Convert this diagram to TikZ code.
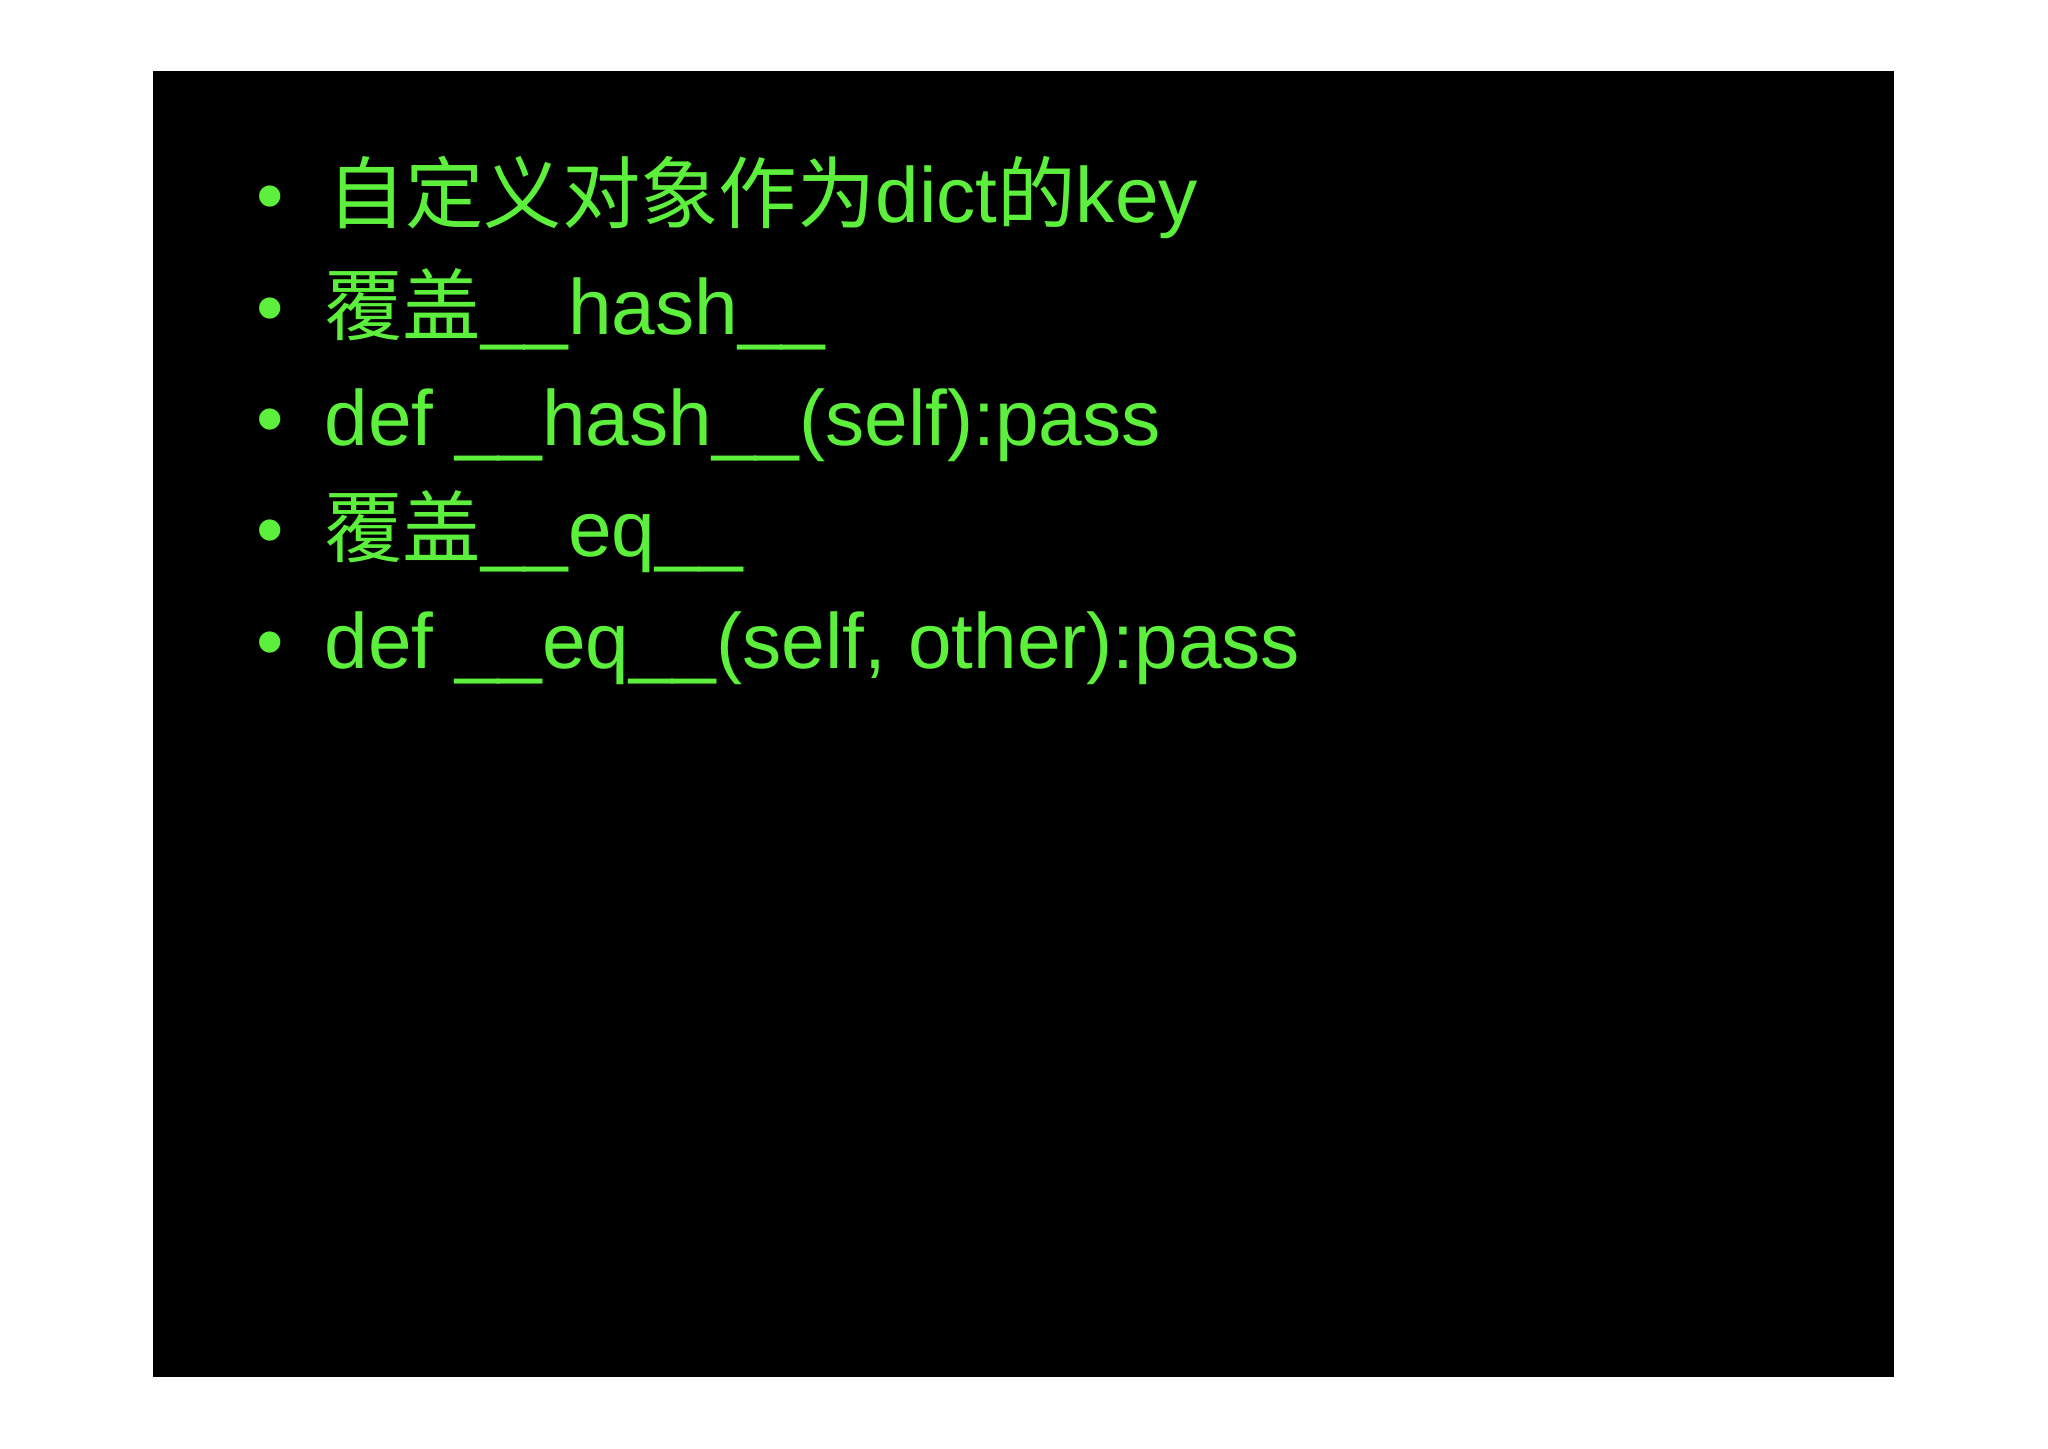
\documentclass[tikz,border=0pt]{standalone}
\usepackage{fontspec}
\setmainfont{Liberation Sans}
\newfontfamily\cjk{Noto Sans CJK SC}
\definecolor{tg}{HTML}{5CF03C}
\begin{document}
\begin{tikzpicture}[x=0.5pt,y=-0.5pt,
  txt/.style={anchor=base west,inner sep=0pt,text=tg,font=\fontsize{30}{36}\selectfont},
  bul/.style={anchor=base,inner sep=0pt,text=tg,font=\fontsize{30}{36}\selectfont}]
\useasboundingbox (0,0) rectangle (1568,1109);
\fill[white] (0,0) rectangle (1568,1109);
\fill[black] (117,54) rectangle (1450,1054);
\foreach \y/\n in {170/b1,256/b2,341/b3,426/b4,512/b5}{\node[bul] (\n) at (207,\y) {•};}
\node[txt] (l1) at (250,170) {{\cjk 自定义对象作为}dict{\cjk 的}key};
\node[txt] (l2) at (248,256) {{\cjk 覆盖}\_\_hash\_\_};
\node[txt] (l3) at (248,341) {def \_\_hash\_\_(self):pass};
\node[txt] (l4) at (248,426) {{\cjk 覆盖}\_\_eq\_\_};
\node[txt] (l5) at (248,512) {def \_\_eq\_\_(self, other):pass};
\end{tikzpicture}
\end{document}
